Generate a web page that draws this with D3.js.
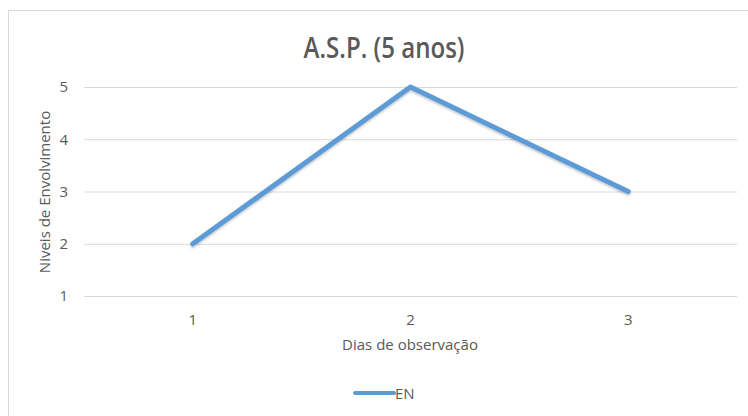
<!DOCTYPE html>
<html><head><meta charset="utf-8">
<script src="https://cdn.jsdelivr.net/npm/d3@7"></script>
<style>body{margin:0;background:#fff}svg{display:block}</style>
</head><body>
<svg id="c" width="748" height="416"></svg>
<script>
const categories = ["1", "2", "3"];
const values = [2, 5, 3];
const yTicks = [1, 2, 3, 4, 5];
const seriesName = "EN";
const title = "A.S.P. (5 anos)";
const xTitle = "Dias de observação";
const yTitle = "Niveis de Envolvimento";

const svg = d3.select("#c");
const font = "'Open Sans', sans-serif";
const grey = "#595959";
svg.append("rect").attr("x", 8.5).attr("y", 10.5).attr("width", 800).attr("height", 500)
  .attr("fill", "#fff").attr("stroke", "#d9d9d9");

const m = {l: 84, r: 737, t: 87, b: 296};
const x = d3.scaleBand().domain(categories).range([m.l, m.r]);
const y = d3.scaleLinear().domain([1, 5]).range([m.b, m.t]);

const yAxis = svg.append("g").attr("transform", `translate(${m.l},0)`)
  .call(d3.axisLeft(y).tickValues(yTicks).tickSize(-(m.r - m.l)).tickPadding(16).tickFormat(d3.format("d")));
yAxis.select(".domain").remove();
yAxis.selectAll("line").attr("stroke", "#d9d9d9").attr("stroke-width", 1);
yAxis.selectAll("text").attr("fill", grey).style("font-family", font).style("font-size", "15px");

const xAxis = svg.append("g").attr("transform", `translate(0,${m.b})`)
  .call(d3.axisBottom(x).tickSize(0).tickPadding(18));
xAxis.select(".domain").remove();
xAxis.selectAll("text").attr("fill", grey).style("font-family", font).style("font-size", "15px");

const defs = svg.append("defs");
const f = defs.append("filter").attr("id", "sh").attr("x", "-10%").attr("y", "-10%").attr("width", "120%").attr("height", "130%");
f.append("feDropShadow").attr("dx", 0).attr("dy", 1.5).attr("stdDeviation", 1.2).attr("flood-color", "#000").attr("flood-opacity", 0.25);

const line = d3.line().x((d, i) => x(categories[i]) + x.bandwidth() / 2).y(d => y(d));
svg.append("path").datum(values).attr("d", line).attr("fill", "none")
  .attr("stroke", "#5B9BD5").attr("stroke-width", 5).attr("stroke-linecap", "round").attr("stroke-linejoin", "round")
  .attr("filter", "url(#sh)");

svg.append("text").attr("transform", "translate(384,58) scale(0.86,1)").attr("text-anchor", "middle")
  .attr("fill", grey).style("font-family", font).style("font-size", "28px").style("font-weight", "600").text(title);

svg.append("text").attr("x", 410).attr("y", 350).attr("text-anchor", "middle")
  .attr("fill", grey).style("font-family", font).style("font-size", "15px").text(xTitle);

svg.append("text").attr("transform", "translate(50,192) rotate(-90)").attr("text-anchor", "middle")
  .attr("fill", grey).style("font-family", font).style("font-size", "15px").text(yTitle);

const lg = svg.append("g");
lg.append("line").attr("x1", 355).attr("x2", 394).attr("y1", 393).attr("y2", 393)
  .attr("stroke", "#5B9BD5").attr("stroke-width", 4).attr("stroke-linecap", "round");
lg.append("text").attr("x", 395).attr("y", 398.5).attr("fill", grey).style("font-family", font).style("font-size", "15px").text(seriesName);
</script>
</body></html>
